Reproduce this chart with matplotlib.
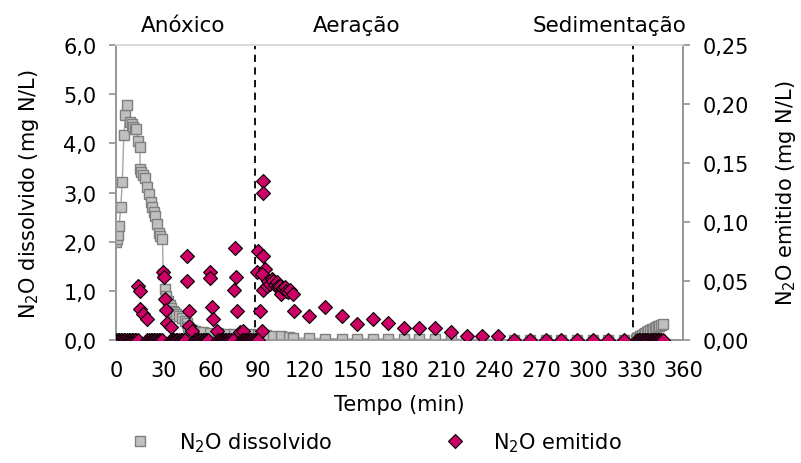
import matplotlib
matplotlib.use('Agg')
import matplotlib.pyplot as plt
from matplotlib.lines import Line2D
from matplotlib.ticker import FuncFormatter

plt.rcParams['font.family'] = ['DejaVu Sans']
plt.rcParams['mathtext.fontset'] = 'dejavusans'

# N2O dissolvido (mg N/L) - eixo esquerdo
t_dis = [0, 0.5, 1, 2, 3, 4, 5, 6, 7, 9, 10, 11, 12, 13, 14, 15, 15.5, 16, 17, 18.5,
         20, 21, 22, 23, 24, 25, 26, 27, 28, 29.5, 30, 31, 32, 33, 34, 35, 36, 37, 38,
         40, 42, 44, 45, 46, 47, 48, 50, 52, 55, 60, 65, 70, 75, 80, 85, 90, 95, 100,
         105, 110, 112.6, 122.7, 132.7, 143.3, 152.8, 163, 172.9, 183, 192.6, 202.5,
         212.5, 222.7, 232.6, 242.8, 252.7, 262.8, 272.8, 282.8, 292.5, 302.6, 312.6,
         322.5, 330, 331, 332, 333, 334, 335, 336, 337, 338, 339, 340, 341, 342, 343,
         344, 345, 346, 347.5]
v_dis = [1.99, 2.05, 2.13, 2.32, 2.70, 3.22, 4.17, 4.57, 4.79, 4.43, 4.40, 4.33, 4.29,
         4.30, 4.04, 3.92, 3.48, 3.42, 3.35, 3.30, 3.11, 2.97, 2.82, 2.70, 2.60, 2.53,
         2.36, 2.18, 2.12, 2.05, 1.35, 1.04, 0.90, 0.80, 0.72, 0.65, 0.60, 0.57, 0.54,
         0.50, 0.45, 0.40, 0.35, 0.28, 0.24, 0.21, 0.19, 0.17, 0.16, 0.15, 0.14, 0.13,
         0.13, 0.12, 0.12, 0.11, 0.10, 0.09, 0.08, 0.07, 0.05, 0.04, 0.035, 0.03, 0.03,
         0.03, 0.03, 0.025, 0.025, 0.02, 0.02, 0.02, 0.02, 0.015, 0.015, 0.015, 0.01,
         0.01, 0.01, 0.01, 0.01, 0.01, 0.02, 0.04, 0.06, 0.08, 0.10, 0.12, 0.14, 0.16,
         0.18, 0.20, 0.22, 0.24, 0.26, 0.28, 0.29, 0.30, 0.32, 0.33]

# N2O emitido (mg N/L) - eixo direito
t_emi = [0, 1, 2, 3, 4, 5, 6, 7, 8, 9, 10, 11, 12, 13, 14,
         14, 15, 15.2, 17.3, 19.5,
         20, 21, 22, 23, 24, 25, 26, 27, 28, 29,
         30, 30.3, 31, 31.5, 32.3, 35,
         35, 36, 37, 38, 39, 40, 41, 42, 43, 43.8,
         44.8, 44.8, 46.3, 46.3, 48,
         50, 51, 52, 53, 54, 55, 56, 57, 58, 58.6,
         59.7, 59.7, 60.7, 61.8, 64,
         65, 66, 67, 68, 69, 70, 71, 72, 73, 74.5,
         75.5, 76, 74.9, 76.6, 78.7, 80.8,
         80, 81, 82, 83, 84, 85, 86, 87, 88, 89.3,
         89.3, 90.4, 93.5, 93.5, 93.5, 94.6, 92.5, 93.5, 95.6, 96.7, 97.5, 98.8, 100,
         101, 102, 103, 104, 105, 106, 107.3, 108, 109, 110.5, 112.6,
         91.4, 92.5, 90.4, 113,
         122.7, 132.7, 143.3, 152.8, 163, 172.9, 183, 192.6, 202.5, 212.5, 222.7,
         232.6, 242.8, 252.7, 262.8, 272.8, 282.8, 292.5, 302.6, 312.6, 322.5,
         331, 332, 333, 334, 335, 336, 337, 338, 339, 340, 341, 342, 343, 344, 345,
         346, 347.5]
v_emi = [0, 0, 0, 0, 0, 0, 0, 0, 0, 0, 0, 0, 0, 0, 0,
         0.046, 0.042, 0.0265, 0.0223, 0.018,
         0, 0, 0, 0, 0, 0, 0, 0, 0, 0,
         0.0576, 0.0534, 0.035, 0.026, 0.015, 0.011,
         0, 0, 0, 0, 0, 0, 0, 0, 0, 0,
         0.0716, 0.0505, 0.025, 0.0124, 0.008,
         0, 0, 0, 0, 0, 0, 0, 0, 0, 0,
         0.0576, 0.0525, 0.028, 0.018, 0.008,
         0, 0, 0, 0, 0, 0, 0, 0, 0, 0,
         0.078, 0.0534, 0.0428, 0.025, 0.0068, 0.008,
         0, 0, 0, 0, 0, 0, 0, 0, 0, 0,
         0.0576, 0.076, 0.135, 0.1245, 0.0716, 0.060, 0.056, 0.043, 0.046, 0.050,
         0.048, 0.052, 0.050, 0.047, 0.049, 0.046, 0.046, 0.039, 0.044, 0.045, 0.042,
         0.041, 0.043, 0.039,
         0.025, 0.008, 0, 0.025,
         0.0208, 0.0285, 0.0208, 0.0138, 0.018, 0.0147, 0.0105, 0.0105, 0.0105,
         0.007, 0.0034, 0.0037, 0.0037, 0, 0, 0, 0, 0, 0, 0, 0,
         0, 0, 0, 0, 0, 0, 0, 0, 0, 0, 0, 0, 0, 0, 0, 0, 0]

fases = ['Anóxico', 'Aeração', 'Sedimentação']
fase_x = [183, 357, 610]
limites = [88, 328.5]

cinza = '#c0c0c0'
magenta = '#cc0066'
eixo = '#999999'

fig = plt.figure(figsize=(8.01, 4.64), dpi=100)
ax = fig.add_axes([0.1448, 0.2644, 0.7079, 0.6365])
ax2 = ax.twinx()

ax.plot(t_dis, v_dis, '-', color='#a6a6a6', lw=1.0, marker='s', ms=7,
        mfc=cinza, mec='#7f7f7f', mew=1.0, zorder=3)
for x in limites:
    ax.axvline(x, color='black', ls=(0, (4, 3)), lw=1.3, zorder=2)

ax2.plot(t_emi, v_emi, ls='none', marker='D', ms=7, mfc=magenta,
         mec='black', mew=0.8, zorder=3)

ax.set_xlim(0, 360)
ax.set_ylim(0, 6)
ax2.set_ylim(0, 0.25)
ax.set_xticks(range(0, 361, 30))
ax.set_yticks([0, 1, 2, 3, 4, 5, 6])
ax2.set_yticks([0, 0.05, 0.10, 0.15, 0.20, 0.25])
ax.yaxis.set_major_formatter(FuncFormatter(lambda v, p: f'{v:.1f}'.replace('.', ',')))
ax2.yaxis.set_major_formatter(FuncFormatter(lambda v, p: f'{v:.2f}'.replace('.', ',')))

for a in (ax, ax2):
    for s in a.spines.values():
        s.set_color(eixo)
        s.set_linewidth(1.3)
    a.spines['top'].set_color('#d9d9d9')
    a.tick_params(labelsize=15, colors=eixo, labelcolor='black', width=1.3)
ax.tick_params(axis='y', length=5, pad=9)
ax2.tick_params(axis='y', length=5, pad=9)
ax.tick_params(axis='x', length=0, pad=14)

ax.set_xlabel('Tempo (min)', fontsize=15, labelpad=10)
ax.set_ylabel('N$_2$O dissolvido (mg N/L)', fontsize=15, labelpad=16)
ax2.set_ylabel('N$_2$O emitido (mg N/L)', fontsize=15, labelpad=18)

for nome, xp in zip(fases, fase_x):
    fig.text(xp / 801, 1 - 26 / 464, nome, fontsize=15.5, ha='center', va='center')

h1 = Line2D([], [], ls='none', marker='s', ms=6.5, mfc=cinza, mec='#7f7f7f', mew=1.0)
h2 = Line2D([], [], ls='none', marker='D', ms=7, mfc=magenta, mec='black', mew=0.8)
fig.legend([h1, h2], ['N$_2$O dissolvido', 'N$_2$O emitido'], loc='center',
           bbox_to_anchor=(0.4625, 1 - 443 / 464), ncol=2, frameon=False,
           fontsize=15, handletextpad=0.85, columnspacing=4.9)

fig.savefig('out.png', dpi=100)
